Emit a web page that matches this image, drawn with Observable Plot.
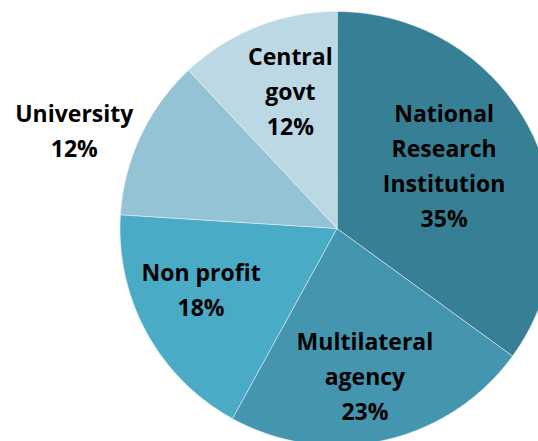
<!DOCTYPE html>
<html>
<head>
<meta charset="utf-8">
<script src="https://cdn.jsdelivr.net/npm/d3@7"></script>
<script src="https://cdn.jsdelivr.net/npm/@observablehq/plot@0.6"></script>
<style>
  html, body { margin: 0; padding: 0; background: #fff; overflow: hidden; }
</style>
</head>
<body>
<div id="chart"></div>
<script>
// ---- data ----
const categories = ["National Research Institution", "Multilateral agency", "Non profit", "University", "Central govt"];
const labelLines = [["National", "Research", "Institution"], ["Multilateral", "agency"], ["Non profit"], ["University"], ["Central", "govt"]];
const shares = [35, 23, 18, 12, 12];

// ---- style / layout (not data) ----
const colors = ["#377f94", "#4396ae", "#4aabc6", "#93c3d5", "#bcd8e4"];
const W = 538, H = 441;
const cx = 336.5, cy = 228, R = 217;
// label placement: radius fraction and angle offset (degrees) per slice
const labelPlace = [
  {r: 0.57, da: -3},
  {r: 0.70, da: 2},
  {r: 0.69, da: 4},
  {r: 1.29, da: -5},
  {r: 0.66, da: 2.6}
];
const lineGap = 35;

const pie = d3.pie().sort(null).value(d => d)(shares);

// polygon points for each slice in unit coordinates
const slicePts = [];
pie.forEach((a, i) => {
  slicePts.push({cat: categories[i], x: 0, y: 0});
  const n = Math.max(2, Math.ceil((a.endAngle - a.startAngle) / 0.01));
  for (let j = 0; j <= n; j++) {
    const t = a.startAngle + (a.endAngle - a.startAngle) * j / n;
    slicePts.push({cat: categories[i], x: Math.sin(t), y: Math.cos(t)});
  }
});

// labels: one row per text line
const labelRows = [];
pie.forEach((a, i) => {
  const mid = (a.startAngle + a.endAngle) / 2 + labelPlace[i].da * Math.PI / 180;
  const rr = labelPlace[i].r;
  const lines = [...labelLines[i], `${shares[i]}%`];
  const n = lines.length;
  lines.forEach((txt, j) => {
    labelRows.push({
      x: rr * Math.sin(mid),
      y: rr * Math.cos(mid),
      text: txt,
      dy: (j - (n - 1) / 2) * lineGap
    });
  });
});

const chart = Plot.plot({
  width: W,
  height: H,
  margin: 0,
  style: {background: "#fff", overflow: "hidden"},
  x: {domain: [-1, 1], range: [cx - R, cx + R], axis: null},
  y: {domain: [-1, 1], range: [cy + R, cy - R], axis: null},
  color: {domain: categories, range: colors},
  marks: [
    Plot.line(slicePts, {
      x: "x", y: "y", z: "cat", fill: "cat",
      stroke: "#e8f2f6", strokeWidth: 0.8, strokeOpacity: 0.8,
      curve: "linear-closed"
    }),
    ...[...new Set(labelRows.map(d => d.dy))].map(dy =>
      Plot.text(labelRows.filter(d => d.dy === dy), {
        x: "x", y: "y", text: "text", dy,
        fill: "#000",
        fontSize: 23, fontWeight: "bold",
        fontFamily: "'Open Sans', sans-serif"
      })
    )
  ]
});
document.getElementById("chart").appendChild(chart);
</script>
</body>
</html>
